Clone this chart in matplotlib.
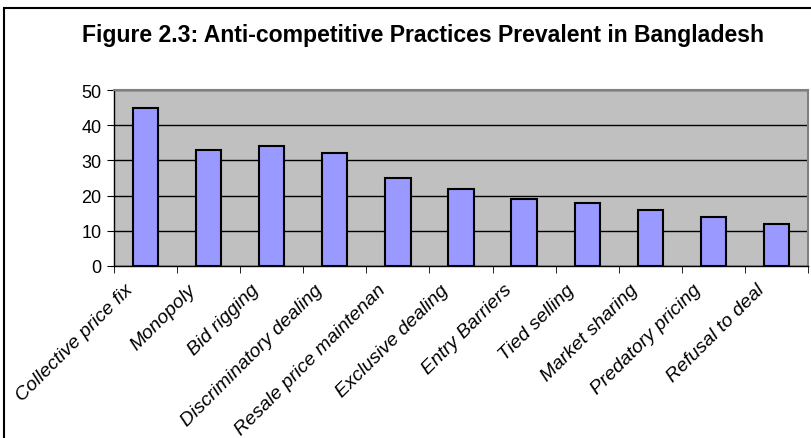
import matplotlib.pyplot as plt
import matplotlib.transforms as mtransforms
import numpy as np

# categories and counts
practices = ["Collective price fix", "Monopoly", "Bid rigging", "Discriminatory dealing",
             "Resale price maintenan", "Exclusive dealing", "Entry Barriers", "Tied selling",
             "Market sharing", "Predatory pricing", "Refusal to deal"]
counts = [45, 33, 34, 32, 25, 22, 19, 18, 16, 14, 12]
yticks = [0, 10, 20, 30, 40, 50]

plt.rcParams['font.family'] = ['Liberation Sans', 'DejaVu Sans']

fig = plt.figure(figsize=(8.11, 4.39), dpi=100)
ax = fig.add_axes([0.1406, 0.392, 0.8557, 0.4007])

x = np.arange(len(practices))
ax.bar(x, counts, width=0.4, color="#9999FF", edgecolor="black", linewidth=1.5, zorder=3)

ax.set_facecolor("#C0C0C0")
ax.set_xlim(-0.5, len(practices) - 0.5)
ax.set_ylim(0, 50)
ax.set_yticks(yticks)
ax.yaxis.grid(True, color="black", linewidth=1, zorder=1)
ax.tick_params(axis="y", labelsize=13, length=5, direction="out", pad=4)

# category labels at centres, tick marks at boundaries
ax.set_xticks(x)
ax.set_xticklabels(practices, rotation=45, ha="right", rotation_mode="anchor",
                   fontsize=14, style="italic")
ax.tick_params(axis="x", which="major", length=0, pad=8)
ax.set_xticks(np.arange(-0.5, len(practices)), minor=True)
ax.tick_params(axis="x", which="minor", length=5, direction="out")
shift = mtransforms.ScaledTranslation(-0.21, -0.04, fig.dpi_scale_trans)
for lab in ax.get_xticklabels():
    lab.set_transform(lab.get_transform() + shift)

for s in ["top", "right"]:
    ax.spines[s].set_color("#808080")
    ax.spines[s].set_linewidth(1.5)
for s in ["left", "bottom"]:
    ax.spines[s].set_color("black")
    ax.spines[s].set_linewidth(1)

fig.text(0.521, 1 - 42 / 439, "Figure 2.3: Anti-competitive Practices Prevalent in Bangladesh",
         ha="center", va="baseline", fontsize=16.6, fontweight="bold")

# outer border (only top and left edges fall inside the image)
fig.patches.append(plt.Rectangle((4 / 811, -0.05), 1.1, 1 - 9 / 439 + 0.05,
                                 transform=fig.transFigure, fill=False,
                                 edgecolor="black", linewidth=1.5))

fig.savefig("out.png", dpi=100)
